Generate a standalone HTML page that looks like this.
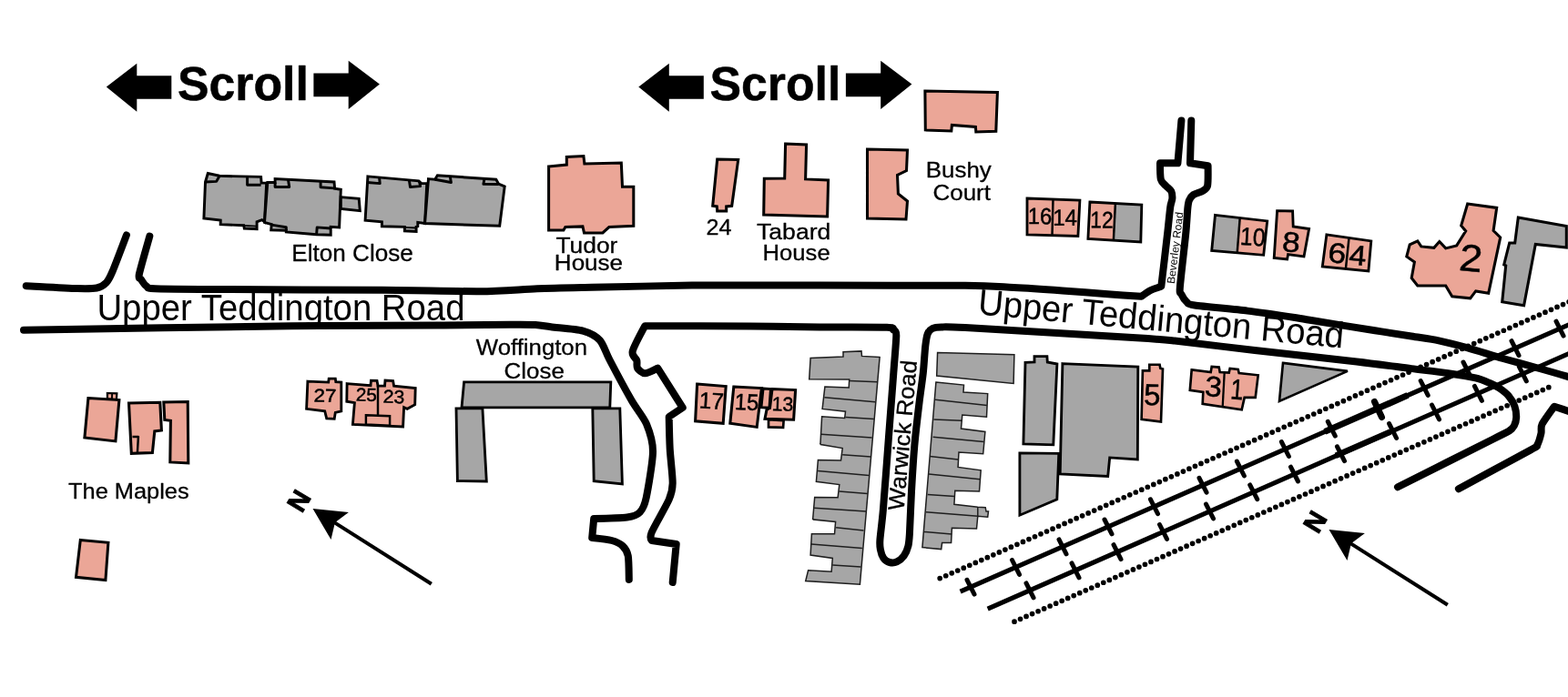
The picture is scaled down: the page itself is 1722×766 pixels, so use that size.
<!DOCTYPE html>
<html lang="en">
<head>
<meta charset="utf-8">
<title>Upper Teddington Road map</title>
<style>
html,body{margin:0;padding:0;background:#fff;}
body{width:1722px;height:766px;overflow:hidden;}
svg{display:block;will-change:transform;}
text{font-family:"Liberation Sans",Arial,Helvetica,sans-serif;fill:#000;}
</style>
</head>
<body>
<svg width="1722" height="766" viewBox="0 0 1722 766">
<rect x="0" y="0" width="1722" height="766" fill="#fff"/>
<polygon points="116.8,95.4 150.3,69.7 150.3,83.2 188.3,83.2 188.3,108.8 150.3,108.8 150.3,122.7" fill="#000"/>
<polygon points="344.4,80.6 382.7,80.6 382.7,66.8 416.9,92.4 382.7,120.1 382.7,106.3 344.4,106.3" fill="#000"/>
<text transform="translate(196.50 109.80) translate(-1.55 0) scale(1.0051 1)" font-size="51.5" font-weight="bold" stroke="#000" stroke-width="0.5" stroke-linejoin="round">Scroll</text>
<polygon points="701.3,95.4 734.8,69.7 734.8,83.2 772.8,83.2 772.8,108.8 734.8,108.8 734.8,122.7" fill="#000"/>
<polygon points="928.9,80.6 967.2,80.6 967.2,66.8 1001.4,92.4 967.2,120.1 967.2,106.3 928.9,106.3" fill="#000"/>
<text transform="translate(781.00 109.80) translate(-1.55 0) scale(1.0051 1)" font-size="51.5" font-weight="bold" stroke="#000" stroke-width="0.5" stroke-linejoin="round">Scroll</text>
<path d="M28.7,314.2 C37.1,314.6 73.2,316.8 84.8,317.1 C96.4,317.4 101.4,317.5 106.2,316.5 C111.0,315.5 114.3,313.1 116.9,310.4 C119.5,307.7 120.2,306.2 123.5,298.4 C126.8,290.6 136.6,264.4 138.9,258.4" fill="none" stroke="#000" stroke-width="8.0" stroke-linecap="round" stroke-linejoin="round"/>
<path d="M164.3,259.7 C162.8,265.2 154.2,294.8 152.9,301.1 C151.6,307.4 153.8,305.2 154.9,307 C156.0,308.8 158.8,313.1 160.9,314.5 C163.0,315.9 159.8,316.8 170.3,317.3 C180.8,317.8 206.7,317.8 240,318 C273.3,318.2 381.7,318.5 420,318.8 C458.3,319.1 504.3,320.4 527,320.2 C549.7,320.0 573.6,317.9 590,317.3 C606.4,316.7 627.3,316.3 650,315.8 C672.7,315.3 737.3,313.9 760,313.6 C782.7,313.3 801.3,313.4 820,313.4 C838.7,313.4 868.0,313.5 900,313.6 C932.0,313.7 1031.5,313.5 1060,313.8 C1088.5,314.1 1099.1,315.3 1113.4,316 C1127.7,316.7 1152.7,318.4 1166.9,319.4 C1181.1,320.4 1208.5,322.8 1220,323.6 C1231.5,324.4 1253.5,325.7 1253.5,325.7 C1253.5,325.7 1260.3,320.8 1263.2,319.3 C1266.1,317.8 1275.3,314.8 1275.3,314.8 C1275.3,314.8 1281.0,266.7 1282.3,255 C1283.6,243.3 1284.6,232.1 1285.3,227.2 C1286.0,222.3 1287.3,220.5 1287.4,218.2 C1287.5,215.9 1287.2,212.0 1286.3,210.1 C1285.4,208.2 1281.8,205.8 1280.3,204.1 C1278.8,202.4 1275.6,200.4 1274.8,197.1 C1274.0,193.8 1274.0,179.3 1274,179.3 C1274.0,179.3 1293.4,179.3 1293.4,179.3 C1293.4,179.3 1296.9,138.8 1297.4,132.6" fill="none" stroke="#000" stroke-width="8.0" stroke-linecap="round" stroke-linejoin="round"/>
<path d="M1308.3,132.6 C1308.1,138.8 1307.0,179.3 1307,179.3 C1307.0,179.3 1326.6,182.3 1326.6,182.3 C1326.6,182.3 1326.9,200.4 1326.1,204.1 C1325.3,207.8 1322.6,208.8 1320.5,210.1 C1318.4,211.4 1312.4,212.8 1310.5,214.1 C1308.6,215.4 1306.7,218.3 1305.9,220.2 C1305.1,222.1 1304.9,223.6 1304.4,228.2 C1303.9,232.8 1303.5,243.4 1302.4,255 C1301.3,266.6 1296.6,306.2 1295.9,315.3 C1295.2,324.4 1296.4,321.2 1297.4,323.4 C1298.4,325.6 1301.5,330.4 1303.4,332 C1305.3,333.6 1303.1,334.2 1312,335.5 C1320.9,336.8 1355.1,339.8 1370,341.6 C1384.9,343.4 1414.3,347.8 1423.6,349.2 C1432.9,350.6 1428.5,350.1 1440,352 C1451.5,353.9 1495.3,361.0 1510,363.3 C1524.7,365.6 1540.7,368.0 1550,369.5 C1559.3,371.0 1571.7,372.6 1580,374.3 C1588.3,376.0 1602.6,379.7 1612,382.3 C1621.4,384.9 1640.0,391.0 1650.5,394 C1661.0,397.0 1680.6,402.2 1690.7,405 C1700.8,407.8 1721.3,413.8 1726,415.2" fill="none" stroke="#000" stroke-width="8.0" stroke-linecap="round" stroke-linejoin="round"/>
<path d="M26,362.7 C65.2,362.1 259.5,359.0 320,358.3 C380.5,357.6 448.0,357.7 480,357.5 C512.0,357.3 545.6,356.9 560,356.8 C574.4,356.7 582.0,356.7 588,357 C594.0,357.3 598.1,358.4 605,359.3 C611.9,360.2 632.9,361.6 640.1,363.6 C647.3,365.6 654.9,369.7 658.8,374 C662.7,378.3 664.9,386.7 669.5,395.5 C674.1,404.3 688.2,430.6 693.6,440 C699.0,449.4 706.9,458.5 710,466 C713.1,473.5 717.0,485.2 717,496 C717.0,506.8 711.6,538.1 709.7,547 C707.8,555.9 705.5,560.1 702.7,563 C699.9,565.9 695.4,567.6 688.7,568.5 C682.0,569.4 652.2,570.0 652.2,570 C652.2,570.0 650.2,591.0 650.2,591 C650.2,591.0 667.3,592.8 671.8,594 C676.3,595.2 681.4,597.7 683.8,600 C686.2,602.3 688.9,606.1 689.8,611 C690.7,615.9 690.7,633.5 690.8,637" fill="none" stroke="#000" stroke-width="8.0" stroke-linecap="round" stroke-linejoin="round"/>
<path d="M738.7,640 C739.2,634.4 742.7,598.0 742.7,598 C742.7,598.0 715.7,594.0 715.7,594 C715.7,594.0 713.2,591.0 715.7,585 C718.2,579.0 731.6,556.2 734.7,549 C737.8,541.8 738.6,538.5 738.7,531 C738.8,523.5 736.2,502.7 735.7,493 C735.2,483.3 734.7,458.0 734.7,458 C734.7,458.0 749.7,448.0 749.7,448 C749.7,448.0 722.3,404.6 722.3,404.6 C722.3,404.6 711.3,410.3 708.3,410.3 C705.3,410.3 701.2,406.4 700,404.5 C698.8,402.6 700.0,398.6 699.3,396.1 C698.6,393.6 693.5,391.2 694.7,386.1 C695.9,381.0 708.3,358.2 708.3,358.2 C708.3,358.2 798.4,358.2 824,358.4 C849.6,358.6 880.0,359.3 900,359.5 C920.0,359.7 963.2,359.4 974,359.8 C984.8,360.2 979.6,361.3 981,362.5 C982.4,363.7 984.3,362.2 984.3,368.5 C984.3,374.8 982.4,395.1 981.3,410 C980.2,424.9 977.5,460.0 976,480 C974.5,500.0 971.2,544.9 969.9,560 C968.6,575.1 966.8,587.5 966.4,593.4 C966.0,599.3 966.4,601.4 966.9,604.1 C967.4,606.8 968.9,611.4 970.2,613.3 C971.5,615.2 974.9,617.5 976.9,618 C978.9,618.5 982.8,618.4 984.9,617.4 C987.0,616.4 991.0,613.1 992.7,610.8 C994.4,608.5 996.6,603.3 997.4,600.1 C998.2,596.9 998.4,594.7 998.9,586.7 C999.4,578.7 1000.3,552.9 1001,540 C1001.7,527.1 1003.2,503.1 1004.3,490 C1005.4,476.9 1008.3,452.7 1009.6,442 C1010.9,431.3 1012.9,418.3 1013.8,410 C1014.7,401.7 1015.6,385.7 1016.3,380 C1017.0,374.3 1017.7,369.5 1018.7,367 C1019.7,364.5 1022.0,362.0 1024,361 C1026.0,360.0 1029.2,359.6 1034,359.5 C1038.8,359.4 1032.0,358.6 1060,360.1 C1088.0,361.6 1213.3,369.1 1244,371 C1274.7,372.9 1272.1,372.7 1290,374.6 C1307.9,376.5 1351.3,382.0 1378,385 C1404.7,388.0 1467.1,394.7 1490,397.4 C1512.9,400.1 1536.6,403.4 1550,405.1 C1563.4,406.8 1580.8,408.8 1590.2,410.2 C1599.6,411.6 1614.3,414.0 1620.4,415.4 C1626.5,416.8 1632.5,419.5 1636,421 C1639.5,422.5 1643.7,424.6 1646.5,426.5 C1649.3,428.4 1654.7,432.6 1657,435.3 C1659.3,438.0 1662.4,443.5 1663.5,446.7 C1664.6,449.9 1665.3,456.2 1665.2,459 C1665.1,461.8 1663.8,466.1 1662.8,468 C1661.8,469.9 1660.5,471.6 1657.5,473.5 C1654.5,475.4 1656.3,474.3 1640,482.5 C1623.7,490.7 1549.0,528.3 1535,535.3" fill="none" stroke="#000" stroke-width="8.0" stroke-linecap="round" stroke-linejoin="round"/>
<path d="M1726,453 C1723.8,452.3 1707.0,446.7 1707,446.7 C1707.0,446.7 1695.2,462.9 1693.5,466.3 C1691.8,469.7 1693.1,473.3 1692.5,476 C1691.9,478.7 1689.3,487.3 1688,489.5 C1686.7,491.7 1691.0,488.9 1681,494.5 C1671.0,500.1 1611.1,532.2 1601.9,537.2" fill="none" stroke="#000" stroke-width="8.0" stroke-linecap="round" stroke-linejoin="round"/>
<line x1="1032.2" y1="635.6" x2="1724" y2="331.3" stroke="#000" stroke-width="5.7" stroke-linecap="round" stroke-dasharray="0 7.12"/>
<line x2="1108.5" y2="685.6" x1="1700.8" y1="425.7" stroke="#000" stroke-width="5.7" stroke-linecap="round" stroke-dasharray="0 7.12"/>
<line x1="1054.6" y1="650.2" x2="1724" y2="356.3" stroke="#000" stroke-width="5.1"/>
<line x1="1455" y1="474.4" x2="1546" y2="434.4" stroke="#000" stroke-width="7.0"/>
<line x1="1467" y1="500.8" x2="1527" y2="474.5" stroke="#000" stroke-width="6.6"/>
<line x1="1509.5" y1="441.5" x2="1517.5" y2="458.5" stroke="#000" stroke-width="7.0" stroke-linecap="round"/>
<line x1="1084.7" y1="669.2" x2="1724" y2="388.1" stroke="#000" stroke-width="5.1"/>
<line x1="1062.0" y1="637.3" x2="1070.0" y2="653.1" stroke="#000" stroke-width="5.0" stroke-linecap="round"/>
<line x1="1111.5" y1="615.5" x2="1119.5" y2="631.4" stroke="#000" stroke-width="5.0" stroke-linecap="round"/>
<line x1="1163.0" y1="592.9" x2="1171.0" y2="608.8" stroke="#000" stroke-width="5.0" stroke-linecap="round"/>
<line x1="1213.0" y1="571.0" x2="1221.0" y2="586.8" stroke="#000" stroke-width="5.0" stroke-linecap="round"/>
<line x1="1263.5" y1="548.8" x2="1271.5" y2="564.7" stroke="#000" stroke-width="5.0" stroke-linecap="round"/>
<line x1="1317.0" y1="525.3" x2="1325.0" y2="541.2" stroke="#000" stroke-width="5.0" stroke-linecap="round"/>
<line x1="1358.4" y1="507.1" x2="1366.4" y2="523.0" stroke="#000" stroke-width="5.0" stroke-linecap="round"/>
<line x1="1407.4" y1="485.6" x2="1415.4" y2="501.5" stroke="#000" stroke-width="5.0" stroke-linecap="round"/>
<line x1="1458.3" y1="463.3" x2="1466.3" y2="479.1" stroke="#000" stroke-width="5.0" stroke-linecap="round"/>
<line x1="1509.3" y1="440.9" x2="1517.3" y2="456.7" stroke="#000" stroke-width="5.0" stroke-linecap="round"/>
<line x1="1560.2" y1="418.5" x2="1568.2" y2="434.4" stroke="#000" stroke-width="5.0" stroke-linecap="round"/>
<line x1="1607.0" y1="398.0" x2="1615.0" y2="413.8" stroke="#000" stroke-width="5.0" stroke-linecap="round"/>
<line x1="1660.0" y1="374.7" x2="1668.0" y2="390.6" stroke="#000" stroke-width="5.0" stroke-linecap="round"/>
<line x1="1709.0" y1="353.2" x2="1717.0" y2="369.1" stroke="#000" stroke-width="5.0" stroke-linecap="round"/>
<line x1="1127.0" y1="640.9" x2="1135.0" y2="656.8" stroke="#000" stroke-width="5.0" stroke-linecap="round"/>
<line x1="1177.0" y1="618.9" x2="1185.0" y2="634.8" stroke="#000" stroke-width="5.0" stroke-linecap="round"/>
<line x1="1223.0" y1="598.7" x2="1231.0" y2="614.6" stroke="#000" stroke-width="5.0" stroke-linecap="round"/>
<line x1="1273.5" y1="576.5" x2="1281.5" y2="592.4" stroke="#000" stroke-width="5.0" stroke-linecap="round"/>
<line x1="1324.5" y1="554.1" x2="1332.5" y2="569.9" stroke="#000" stroke-width="5.0" stroke-linecap="round"/>
<line x1="1372.7" y1="532.9" x2="1380.7" y2="548.7" stroke="#000" stroke-width="5.0" stroke-linecap="round"/>
<line x1="1417.5" y1="513.2" x2="1425.5" y2="529.0" stroke="#000" stroke-width="5.0" stroke-linecap="round"/>
<line x1="1468.5" y1="490.8" x2="1476.5" y2="506.6" stroke="#000" stroke-width="5.0" stroke-linecap="round"/>
<line x1="1525.6" y1="465.6" x2="1533.6" y2="481.5" stroke="#000" stroke-width="5.0" stroke-linecap="round"/>
<line x1="1572.5" y1="445.0" x2="1580.5" y2="460.9" stroke="#000" stroke-width="5.0" stroke-linecap="round"/>
<line x1="1619.4" y1="424.4" x2="1627.4" y2="440.3" stroke="#000" stroke-width="5.0" stroke-linecap="round"/>
<line x1="1668.3" y1="402.9" x2="1676.3" y2="418.8" stroke="#000" stroke-width="5.0" stroke-linecap="round"/>
<polygon points="228.3,190.5 241.1,193.3 286.6,194.4 287.1,201.1 292.7,201.1 290.5,243.8 287.7,241.6 282.1,243.8 282.1,251.6 268.3,251 267.7,247.7 242.2,246.6 242.2,242.1 223.9,239.9 225.5,200" fill="#a6a6a6" stroke="#000" stroke-width="2.95" stroke-linejoin="miter" stroke-miterlimit="3" />
<polyline points="225.5,200 237.7,199.4 241.1,193.3" fill="none" stroke="#000" stroke-width="2.95" stroke-linecap="butt" stroke-linejoin="round"/>
<polyline points="271.6,194.4 271.6,203.3 286.6,203.3" fill="none" stroke="#000" stroke-width="2.95" stroke-linecap="butt" stroke-linejoin="round"/>
<polyline points="268.3,247.9 282.1,248.6" fill="none" stroke="#000" stroke-width="1.85" stroke-linecap="butt" stroke-linejoin="round"/>
<polygon points="293.8,200.5 302.1,200.5 302.1,196.6 367,200 367.6,207.2 374.3,208.3 372.6,249.9 363.2,249.4 363.2,258.2 347.6,257.7 314.3,254.9 314.3,253.2 297.7,252.7 298.2,246.6 290.5,244.4" fill="#a6a6a6" stroke="#000" stroke-width="2.95" stroke-linejoin="miter" stroke-miterlimit="3" />
<polyline points="302.1,200.5 302.1,205.5 317.7,205.5 316.5,197.5" fill="none" stroke="#000" stroke-width="2.95" stroke-linecap="butt" stroke-linejoin="round"/>
<polyline points="352.1,199.4 352.1,205.7 367,206.9" fill="none" stroke="#000" stroke-width="2.95" stroke-linecap="butt" stroke-linejoin="round"/>
<polyline points="298.2,247.1 314.3,249.7 314.3,253.2" fill="none" stroke="#000" stroke-width="2.95" stroke-linecap="butt" stroke-linejoin="round"/>
<polyline points="363.2,251 348.2,249.9 347.6,257.7" fill="none" stroke="#000" stroke-width="2.95" stroke-linecap="butt" stroke-linejoin="round"/>
<polygon points="374.3,216.6 394.2,218.3 395.3,231.6 374.3,229.4" fill="#a6a6a6" stroke="#000" stroke-width="2.95" stroke-linejoin="miter" stroke-miterlimit="3" />
<polygon points="403.9,193.9 459.9,198.9 462.7,201.6 468.8,201.6 466.6,245.5 458.8,244.4 458.8,248.8 457.1,249.4 457.1,254.4 444.4,253.8 444.4,249.4 419.4,248.8 419.4,243.8 401.1,242.1" fill="#a6a6a6" stroke="#000" stroke-width="2.95" stroke-linejoin="miter" stroke-miterlimit="3" />
<polyline points="403.6,200.5 417.2,201.6 416.6,195" fill="none" stroke="#000" stroke-width="2.95" stroke-linecap="butt" stroke-linejoin="round"/>
<polyline points="449.4,198.3 450.5,205.5 461.6,204.6 460.5,199.4" fill="none" stroke="#000" stroke-width="2.95" stroke-linecap="butt" stroke-linejoin="round"/>
<polyline points="444.4,249.9 457.1,250.5" fill="none" stroke="#000" stroke-width="1.85" stroke-linecap="butt" stroke-linejoin="round"/>
<polygon points="470.5,196.6 477.7,197.2 480.4,192.8 544.8,197.2 547.6,202.2 554.2,205 548.7,248.3 466.6,245.5" fill="#a6a6a6" stroke="#000" stroke-width="2.95" stroke-linejoin="miter" stroke-miterlimit="3" />
<polyline points="477.7,197.2 495.4,200.5 494.3,193.9" fill="none" stroke="#000" stroke-width="2.95" stroke-linecap="butt" stroke-linejoin="round"/>
<polyline points="532,196.4 530.9,202.2 547.6,202.5" fill="none" stroke="#000" stroke-width="2.95" stroke-linecap="butt" stroke-linejoin="round"/>
<polygon points="602.6,183 622.3,181 622.3,172.4 640.9,171.6 641.9,180 682.3,179 683.5,205.3 695.8,205.3 695.8,248.3 668.9,249.5 661.9,255.9 641.5,255.9 639.9,248.9 620.9,249.5 618.9,252.9 602.6,252.9" fill="#eba697" stroke="#000" stroke-width="3.05" stroke-linejoin="miter" stroke-miterlimit="3" />
<polygon points="787.7,175 810.7,175.6 803.7,226.3 797.7,226.9 797.7,231.9 787.7,231.9 787.3,226.9 782.7,226.3" fill="#eba697" stroke="#000" stroke-width="3.05" stroke-linejoin="miter" stroke-miterlimit="3" />
<polygon points="862.6,158 885.6,159 884.6,196.9 909.6,197.9 908.6,237.9 838.7,235.9 839.3,196.3 861.7,195.9" fill="#eba697" stroke="#000" stroke-width="3.05" stroke-linejoin="miter" stroke-miterlimit="3" />
<polygon points="1015.9,100 1095.4,101.6 1093.8,144.3 1071.8,144.9 1071.4,139.5 1045.4,137.5 1044.8,143.9 1016.3,142.9" fill="#eba697" stroke="#000" stroke-width="3.05" stroke-linejoin="miter" stroke-miterlimit="3" />
<polygon points="952.5,164 996.5,165 995.5,187.5 985.5,192.5 986.4,213 996.5,221 995,241 952.5,240" fill="#eba697" stroke="#000" stroke-width="3.05" stroke-linejoin="miter" stroke-miterlimit="3" />
<polygon points="1128,218 1185.9,220 1183.9,259.5 1128,257.9" fill="#eba697" stroke="#000" stroke-width="2.85" stroke-linejoin="miter" stroke-miterlimit="3" />
<polyline points="1156.5,219 1155.5,258.9" fill="none" stroke="#000" stroke-width="2.45" stroke-linecap="butt" stroke-linejoin="round"/>
<polygon points="1224.9,223.6 1253.8,225 1252.8,265.9 1222.9,263.9" fill="#a6a6a6" stroke="none" stroke-width="0" stroke-linejoin="miter" stroke-miterlimit="3" />
<polygon points="1196.9,222 1224.9,223.6 1222.9,263.9 1194.9,262.3" fill="#eba697" stroke="none" stroke-width="0" stroke-linejoin="miter" stroke-miterlimit="3" />
<polygon points="1196.9,222 1253.8,225 1252.8,265.9 1194.9,262.3" fill="none" stroke="#000" stroke-width="2.85" stroke-linejoin="miter" stroke-miterlimit="3" />
<polyline points="1224.9,223.6 1222.9,263.9" fill="none" stroke="#000" stroke-width="2.45" stroke-linecap="butt" stroke-linejoin="round"/>
<polygon points="1334.5,236.4 1361.7,239.6 1358.7,277.9 1330.7,275.5" fill="#a6a6a6" stroke="none" stroke-width="0" stroke-linejoin="miter" stroke-miterlimit="3" />
<polygon points="1361.7,239.6 1391.7,242.9 1387.7,280.3 1358.7,277.9" fill="#eba697" stroke="none" stroke-width="0" stroke-linejoin="miter" stroke-miterlimit="3" />
<polygon points="1334.5,236.4 1391.7,242.9 1387.7,280.3 1330.7,275.5" fill="none" stroke="#000" stroke-width="2.85" stroke-linejoin="miter" stroke-miterlimit="3" />
<polyline points="1361.7,239.6 1358.7,277.9" fill="none" stroke="#000" stroke-width="2.45" stroke-linecap="butt" stroke-linejoin="round"/>
<polygon points="1402.6,231.6 1419.6,232 1420.2,248.9 1437.6,251.5 1432,281.9 1414.6,279.5 1413.6,284.9 1399.2,283.5" fill="#eba697" stroke="#000" stroke-width="2.85" stroke-linejoin="miter" stroke-miterlimit="3" />
<polygon points="1456.9,257.9 1505.8,264.9 1502.9,297.9 1452.3,292.9" fill="#eba697" stroke="#000" stroke-width="2.85" stroke-linejoin="miter" stroke-miterlimit="3" />
<polyline points="1481.5,261.5 1477.9,295.5" fill="none" stroke="#000" stroke-width="2.45" stroke-linecap="butt" stroke-linejoin="round"/>
<polygon points="1611.7,224 1643.7,228.4 1640.1,253.5 1647.7,260.9 1634.7,322.3 1620.7,319.9 1614.7,327.8 1594.7,325.8 1587.7,313.9 1556.8,313.9 1550.2,305.5 1553.4,287.9 1544.8,281.9 1548.2,268.9 1556.8,264.9 1560.8,270.9 1574.8,272.3 1580.8,265.5 1587.7,272.9 1599.7,269.9 1609.7,253.9 1604.7,247.9" fill="#eba697" stroke="#000" stroke-width="3.05" stroke-linejoin="miter" stroke-miterlimit="3" />
<polygon points="1667.3,239 1720.3,248.6 1720.3,272 1686.3,268.5 1673.6,335.8 1649.7,331.8 1653.7,291.9 1651.7,290.9 1657.7,266.9 1663.7,266.9" fill="#a6a6a6" stroke="#000" stroke-width="3.05" stroke-linejoin="miter" stroke-miterlimit="3" />
<polygon points="117.9,432 128.3,432.4 127.9,439 117.9,438.4" fill="#eba697" stroke="#000" stroke-width="2.25" stroke-linejoin="miter" stroke-miterlimit="3" />
<polyline points="123.1,432.2 122.9,438.6" fill="none" stroke="#000" stroke-width="1.85" stroke-linecap="butt" stroke-linejoin="round"/>
<polygon points="96.9,437.6 130.9,439.6 126.9,484.9 92.9,480.9" fill="#eba697" stroke="#000" stroke-width="3.05" stroke-linejoin="miter" stroke-miterlimit="3" />
<polygon points="141.5,442.9 175.8,442.3 177.4,472.9 169.8,473.9 167.4,497.5 144.3,498.3" fill="#eba697" stroke="#000" stroke-width="3.05" stroke-linejoin="miter" stroke-miterlimit="3" />
<polyline points="145.5,479.9 151.9,479.9 150.9,497.5" fill="none" stroke="#000" stroke-width="2.45" stroke-linecap="butt" stroke-linejoin="round"/>
<polygon points="179.8,441.9 206.2,441.6 206.8,508.9 186.8,507.9 187.4,462.3 180.8,461.5" fill="#eba697" stroke="#000" stroke-width="3.05" stroke-linejoin="miter" stroke-miterlimit="3" />
<polygon points="88.3,593.5 118.9,596.3 115.9,637.5 83.5,634.3" fill="#eba697" stroke="#000" stroke-width="3.05" stroke-linejoin="miter" stroke-miterlimit="3" />
<polygon points="337.9,419.1 360.7,420.1 361.2,416.1 368.3,416.1 368.8,419.6 374.8,420.1 374.8,451.8 368.3,453.3 367.2,460.3 358.7,459.8 356.7,451.8 336.6,449.3" fill="#eba697" stroke="#000" stroke-width="2.85" stroke-linejoin="miter" stroke-miterlimit="3" />
<polygon points="381.1,421.6 407,423.6 407.5,418.1 414,418.3 415,424.1 422.5,424.1 423,418.1 431.6,418.6 432.6,424.1 456.2,426.6 455.7,444.7 447.2,449.3 443.6,447.7 442.6,468.9 387.4,466.3 389.4,442.7 380.8,441.2" fill="#eba697" stroke="#000" stroke-width="2.85" stroke-linejoin="miter" stroke-miterlimit="3" />
<polyline points="415,424.1 415,456.3" fill="none" stroke="#000" stroke-width="2.45" stroke-linecap="butt" stroke-linejoin="round"/>
<polygon points="401.9,456.3 428.1,457.3 428.1,467.6 401.9,466.5" fill="#eba697" stroke="#000" stroke-width="2.45" stroke-linejoin="miter" stroke-miterlimit="3" />
<polygon points="501,448.9 529.9,448.9 534.3,529 502.4,528.6" fill="#a6a6a6" stroke="#000" stroke-width="2.85" stroke-linejoin="miter" stroke-miterlimit="3" />
<polygon points="650.8,448.9 680.8,448.9 683.4,532 652.2,528.6" fill="#a6a6a6" stroke="#000" stroke-width="2.85" stroke-linejoin="miter" stroke-miterlimit="3" />
<polygon points="509.6,419.9 670.8,419.9 669.8,447.9 507,447.9" fill="#a6a6a6" stroke="#000" stroke-width="2.85" stroke-linejoin="miter" stroke-miterlimit="3" />
<polygon points="765.6,422.1 797.2,424.6 794.2,465.3 763.6,462.8" fill="#eba697" stroke="#000" stroke-width="3.05" stroke-linejoin="miter" stroke-miterlimit="3" />
<polygon points="805.8,425.1 836.4,426.6 831.2,469.4 801.8,465.3" fill="#eba697" stroke="#000" stroke-width="3.05" stroke-linejoin="miter" stroke-miterlimit="3" />
<polygon points="844,461.3 860.6,462.3 860.1,469.9 844,469.4" fill="#eba697" stroke="#000" stroke-width="2.65" stroke-linejoin="miter" stroke-miterlimit="3" />
<polygon points="848,427.6 873.6,428.6 871.6,461.3 840,460.3 842,450.3 845.5,448.3" fill="#eba697" stroke="#000" stroke-width="3.05" stroke-linejoin="miter" stroke-miterlimit="3" />
<polygon points="838,427.1 846.5,427.6 845,448.3 835.9,447.7" fill="#eba697" stroke="#000" stroke-width="3.05" stroke-linejoin="miter" stroke-miterlimit="3" />
<polygon points="966.1,392.6 946.5,391.4 946,385.9 926,386.7 926,392.1 890.1,393.4 888.7,416.8 932.7,417.1 932.2,426 905.9,425.1 903.1,449.4 928.5,452.2 927.7,459.4 902.6,457.7 900.9,488.6 900.9,488.4 925.2,492.5 923.5,505.9 898.4,505.4 896.4,529.3 921.8,532.6 920.1,546.8 894.7,546.5 892.6,571 892.6,570.9 917.6,573.4 916.5,586.7 891.4,586.7 890.1,610.1 914.3,613.5 913.1,628.2 887.6,626.8 884.7,638.5 944.4,642.2" fill="#a6a6a6" stroke="#1e1e1e" stroke-width="1.5" stroke-linejoin="miter" stroke-miterlimit="3" />
<polyline points="932.7,418.4 963.6,419.8" fill="none" stroke="#1e1e1e" stroke-width="1.5" stroke-linecap="butt" stroke-linejoin="round"/>
<polyline points="905.4,436.8 961.1,441.8" fill="none" stroke="#1e1e1e" stroke-width="1.5" stroke-linecap="butt" stroke-linejoin="round"/>
<polyline points="928.5,458.5 959.9,460.5" fill="none" stroke="#1e1e1e" stroke-width="1.5" stroke-linecap="butt" stroke-linejoin="round"/>
<polyline points="901.8,477.3 957.7,481.1" fill="none" stroke="#1e1e1e" stroke-width="1.5" stroke-linecap="butt" stroke-linejoin="round"/>
<polyline points="925.2,499.7 956.6,502.1" fill="none" stroke="#1e1e1e" stroke-width="1.5" stroke-linecap="butt" stroke-linejoin="round"/>
<polyline points="898.1,517.6 954.4,522.6" fill="none" stroke="#1e1e1e" stroke-width="1.5" stroke-linecap="butt" stroke-linejoin="round"/>
<polyline points="921.5,540.1 952.7,542.6" fill="none" stroke="#1e1e1e" stroke-width="1.5" stroke-linecap="butt" stroke-linejoin="round"/>
<polyline points="894.2,558.2 951,561.9" fill="none" stroke="#1e1e1e" stroke-width="1.5" stroke-linecap="butt" stroke-linejoin="round"/>
<polyline points="918.1,579.7 948.5,583.1" fill="none" stroke="#1e1e1e" stroke-width="1.5" stroke-linecap="butt" stroke-linejoin="round"/>
<polyline points="890.9,598.1 946.9,602.6" fill="none" stroke="#1e1e1e" stroke-width="1.5" stroke-linecap="butt" stroke-linejoin="round"/>
<polyline points="914.3,621 945.5,623.1" fill="none" stroke="#1e1e1e" stroke-width="1.5" stroke-linecap="butt" stroke-linejoin="round"/>
<polygon points="1029.6,387.5 1113.9,389.7 1113.1,421.5 1028.7,413.1" fill="#a6a6a6" stroke="#1e1e1e" stroke-width="1.5" stroke-linejoin="miter" stroke-miterlimit="3" />
<polygon points="1027.9,420.1 1058.5,423.1 1058,431 1084.7,432.6 1083.5,458.2 1056.8,456 1055.5,471.1 1081.9,474.4 1079.7,498.7 1053,497 1052.1,513.4 1077.2,516.8 1075.5,540.1 1048.8,539.3 1047.9,554.3 1073.8,557.2 1082.2,557.7 1083,561.9 1085.5,561.9 1084.7,568.2 1073.8,567.2 1072.5,581.1 1045.4,580.2 1044.6,596.6 1034.6,596.6 1033.7,603.6 1012.9,601.6" fill="#a6a6a6" stroke="#1e1e1e" stroke-width="1.5" stroke-linejoin="miter" stroke-miterlimit="3" />
<polyline points="1027.1,439.3 1083.9,445.5" fill="none" stroke="#1e1e1e" stroke-width="1.5" stroke-linecap="butt" stroke-linejoin="round"/>
<polyline points="1025.4,461 1056.3,462.2" fill="none" stroke="#1e1e1e" stroke-width="1.5" stroke-linecap="butt" stroke-linejoin="round"/>
<polyline points="1024.6,480.3 1080.5,485.6" fill="none" stroke="#1e1e1e" stroke-width="1.5" stroke-linecap="butt" stroke-linejoin="round"/>
<polyline points="1021.2,501.4 1052.1,505.1" fill="none" stroke="#1e1e1e" stroke-width="1.5" stroke-linecap="butt" stroke-linejoin="round"/>
<polyline points="1020,520.9 1076.3,526.8" fill="none" stroke="#1e1e1e" stroke-width="1.5" stroke-linecap="butt" stroke-linejoin="round"/>
<polyline points="1018.7,543.5 1048.4,545.5" fill="none" stroke="#1e1e1e" stroke-width="1.5" stroke-linecap="butt" stroke-linejoin="round"/>
<polyline points="1017,562.7 1073.8,567.2" fill="none" stroke="#1e1e1e" stroke-width="1.5" stroke-linecap="butt" stroke-linejoin="round"/>
<polyline points="1015,584.4 1045.1,586.9" fill="none" stroke="#1e1e1e" stroke-width="1.5" stroke-linecap="butt" stroke-linejoin="round"/>
<polyline points="1073.8,557.2 1073.8,567.2" fill="none" stroke="#1e1e1e" stroke-width="1.5" stroke-linecap="butt" stroke-linejoin="round"/>
<polygon points="1126,398.4 1136,398 1136,391.6 1149.9,391.6 1150.3,398 1160.9,400 1156.8,488.9 1123.9,487.9" fill="#a6a6a6" stroke="#000" stroke-width="2.85" stroke-linejoin="miter" stroke-miterlimit="3" />
<polygon points="1166.9,399.6 1249.8,403 1249.3,504.9 1218.7,502.9 1216.7,523.5 1164.2,520.9" fill="#a6a6a6" stroke="#000" stroke-width="2.85" stroke-linejoin="miter" stroke-miterlimit="3" />
<polygon points="1119.9,497.9 1162.8,498.3 1160.8,548.9 1119.9,566.2" fill="#a6a6a6" stroke="#000" stroke-width="2.85" stroke-linejoin="miter" stroke-miterlimit="3" />
<polygon points="1254.9,407.4 1262.3,407.4 1262.3,400.7 1273.6,400.7 1274.3,404.7 1277,405.4 1275,463.5 1253.6,460.8" fill="#eba697" stroke="#000" stroke-width="2.65" stroke-linejoin="miter" stroke-miterlimit="3" />
<polygon points="1308.7,406.4 1329.7,409 1330.7,403 1338.7,403.6 1339.7,409 1349.7,409.6 1350.7,405 1359.7,406 1360.7,410 1381.7,412.3 1378.7,436.9 1366.7,436.9 1363.7,450.3 1320.7,443.9 1321.3,430.9 1306.8,428.9" fill="#eba697" stroke="#000" stroke-width="2.65" stroke-linejoin="miter" stroke-miterlimit="3" />
<polyline points="1344.7,409.6 1342.7,446.9" fill="none" stroke="#000" stroke-width="2.25" stroke-linecap="butt" stroke-linejoin="round"/>
<polygon points="1409,398.9 1479.9,407.9 1405,440.9" fill="#a6a6a6" stroke="#000" stroke-width="2.65" stroke-linejoin="miter" stroke-miterlimit="3" />
<line x1="473.8" y1="641.8" x2="360" y2="569.6" stroke="#000" stroke-width="4"/>
<polygon points="343.5,558.9 382.9,562.9 367.9,574.3 363.5,592.9" fill="#000"/>
<text transform="translate(328.2 550.5) rotate(-59) translate(-10.6 10.1)" font-size="29.5" font-weight="bold" stroke="#000" stroke-width="0.9" stroke-linejoin="miter">N</text>
<line x1="1589.8" y1="664.8" x2="1476" y2="592.6" stroke="#000" stroke-width="4"/>
<polygon points="1459.5,581.9 1498.9,585.9 1483.9,597.3 1479.5,615.9" fill="#000"/>
<text transform="translate(1444.2 573.5) rotate(-59) translate(-10.6 10.1)" font-size="29.5" font-weight="bold" stroke="#000" stroke-width="0.9" stroke-linejoin="miter">N</text>
<text transform="translate(109.40 351.70) translate(-2.97 0) scale(0.9584 1)" font-size="40">Upper Teddington Road</text>
<text transform="translate(1076.20 345.50) rotate(5.28) translate(-2.96 0) scale(0.9563 1)" font-size="40">Upper Teddington Road</text>
<text transform="translate(322.50 286.60) translate(-2.15 0) scale(1.0278 1)" font-size="25.4" stroke="#000" stroke-width="0.3" stroke-linejoin="round">Elton Close</text>
<text transform="translate(611.00 278.00) translate(-0.59 0) scale(1.0777 1)" font-size="24.5" stroke="#000" stroke-width="0.3" stroke-linejoin="round">Tudor</text>
<text transform="translate(611.00 297.00) translate(-2.15 0) scale(1.0628 1)" font-size="24.5" stroke="#000" stroke-width="0.3" stroke-linejoin="round">House</text>
<text transform="translate(776.80 258.40) translate(-1.26 0) scale(1.0278 1)" font-size="24.5" stroke="#000" stroke-width="0.3" stroke-linejoin="round">24</text>
<text transform="translate(831.70 262.90) translate(-0.60 0) scale(1.0834 1)" font-size="24.5" stroke="#000" stroke-width="0.3" stroke-linejoin="round">Tabard</text>
<text transform="translate(839.70 285.80) translate(-2.12 0) scale(1.0466 1)" font-size="24.5" stroke="#000" stroke-width="0.3" stroke-linejoin="round">House</text>
<text transform="translate(1018.90 194.90) translate(-2.14 0) scale(1.0586 1)" font-size="24.5" stroke="#000" stroke-width="0.3" stroke-linejoin="round">Bushy</text>
<text transform="translate(1025.80 219.80) translate(-1.30 0) scale(1.0599 1)" font-size="24.5" stroke="#000" stroke-width="0.3" stroke-linejoin="round">Court</text>
<text transform="translate(75.60 548.30) translate(-0.57 0) scale(1.0363 1)" font-size="24.5" stroke="#000" stroke-width="0.3" stroke-linejoin="round">The Maples</text>
<text transform="translate(523.00 390.00) translate(-0.13 0) scale(1.0509 1)" font-size="24.5" stroke="#000" stroke-width="0.3" stroke-linejoin="round">Woffington</text>
<text transform="translate(554.90 415.70) translate(-1.30 0) scale(1.0592 1)" font-size="24.5" stroke="#000" stroke-width="0.3" stroke-linejoin="round">Close</text>
<text transform="translate(992.50 561.30) rotate(-85) translate(-0.13 0) scale(1.0334 1)" font-size="25" stroke="#000" stroke-width="0.3" stroke-linejoin="round">Warwick Road</text>
<text transform="translate(1289.90 311.30) rotate(-83) translate(-1.00 0) scale(1.0071 1)" font-size="12">Beverley Road</text>
<text transform="translate(1130.60 246.10) rotate(0.3) translate(-1.78 0) scale(0.9436 1)" font-size="25.2" stroke="#000" stroke-width="0.5" stroke-linejoin="round">16</text>
<text transform="translate(1158.00 247.70) rotate(0.3) translate(-1.81 0) scale(0.9571 1)" font-size="25.2" stroke="#000" stroke-width="0.5" stroke-linejoin="round">14</text>
<text transform="translate(1199.00 250.30) rotate(0.6) translate(-1.70 0) scale(0.8878 1)" font-size="25.5" stroke="#000" stroke-width="0.5" stroke-linejoin="round">12</text>
<text transform="translate(1363.30 268.90) rotate(3.9) translate(-1.85 0) scale(0.8968 1)" font-size="27.5" stroke="#000" stroke-width="0.5" stroke-linejoin="round">10</text>
<text transform="translate(1409.00 276.00) rotate(4.2) translate(-1.50 0) scale(1.1393 1)" font-size="31" stroke="#000" stroke-width="0.5" stroke-linejoin="round">8</text>
<text transform="translate(1459.50 288.20) rotate(4.8) translate(-1.77 0) scale(1.1439 1)" font-size="31" stroke="#000" stroke-width="0.5" stroke-linejoin="round">6</text>
<text transform="translate(1481.60 290.60) rotate(4.8) translate(-0.77 0) scale(1.0987 1)" font-size="31" stroke="#000" stroke-width="0.5" stroke-linejoin="round">4</text>
<text transform="translate(1603.90 296.90) rotate(5.4) translate(-2.29 0) scale(1.1015 1)" font-size="41.5" stroke="#000" stroke-width="0.5" stroke-linejoin="round">2</text>
<text transform="translate(345.60 441.60) rotate(0.3) translate(-1.12 0) scale(1.1126 1)" font-size="20.2" stroke="#000" stroke-width="0.5" stroke-linejoin="round">27</text>
<text transform="translate(391.90 440.50) rotate(0.9) translate(-1.03 0) scale(1.0241 1)" font-size="20.2" stroke="#000" stroke-width="0.5" stroke-linejoin="round">25</text>
<text transform="translate(421.50 442.60) rotate(1.8) translate(-1.06 0) scale(1.0509 1)" font-size="20.2" stroke="#000" stroke-width="0.5" stroke-linejoin="round">23</text>
<text transform="translate(769.30 448.60) rotate(2.7) translate(-1.83 0) scale(0.9669 1)" font-size="25.2" stroke="#000" stroke-width="0.5" stroke-linejoin="round">17</text>
<text transform="translate(808.30 450.10) rotate(2.4) translate(-1.78 0) scale(0.9412 1)" font-size="25.2" stroke="#000" stroke-width="0.5" stroke-linejoin="round">15</text>
<text transform="translate(849.00 451.20) rotate(1.5) translate(-1.59 0) scale(0.9842 1)" font-size="21.6" stroke="#000" stroke-width="0.5" stroke-linejoin="round">13</text>
<text transform="translate(1257.40 445.00) rotate(1.2) translate(-1.31 0) scale(0.9952 1)" font-size="33" stroke="#000" stroke-width="0.5" stroke-linejoin="round">5</text>
<text transform="translate(1323.70 435.00) rotate(4.2) translate(-1.26 0) scale(1.0693 1)" font-size="31.5" stroke="#000" stroke-width="0.5" stroke-linejoin="round">3</text>
<text transform="translate(1352.70 438.50) rotate(4.2) translate(-1.91 0) scale(0.8074 1)" font-size="31.5" stroke="#000" stroke-width="0.5" stroke-linejoin="round">1</text>
</svg>
</body>
</html>
